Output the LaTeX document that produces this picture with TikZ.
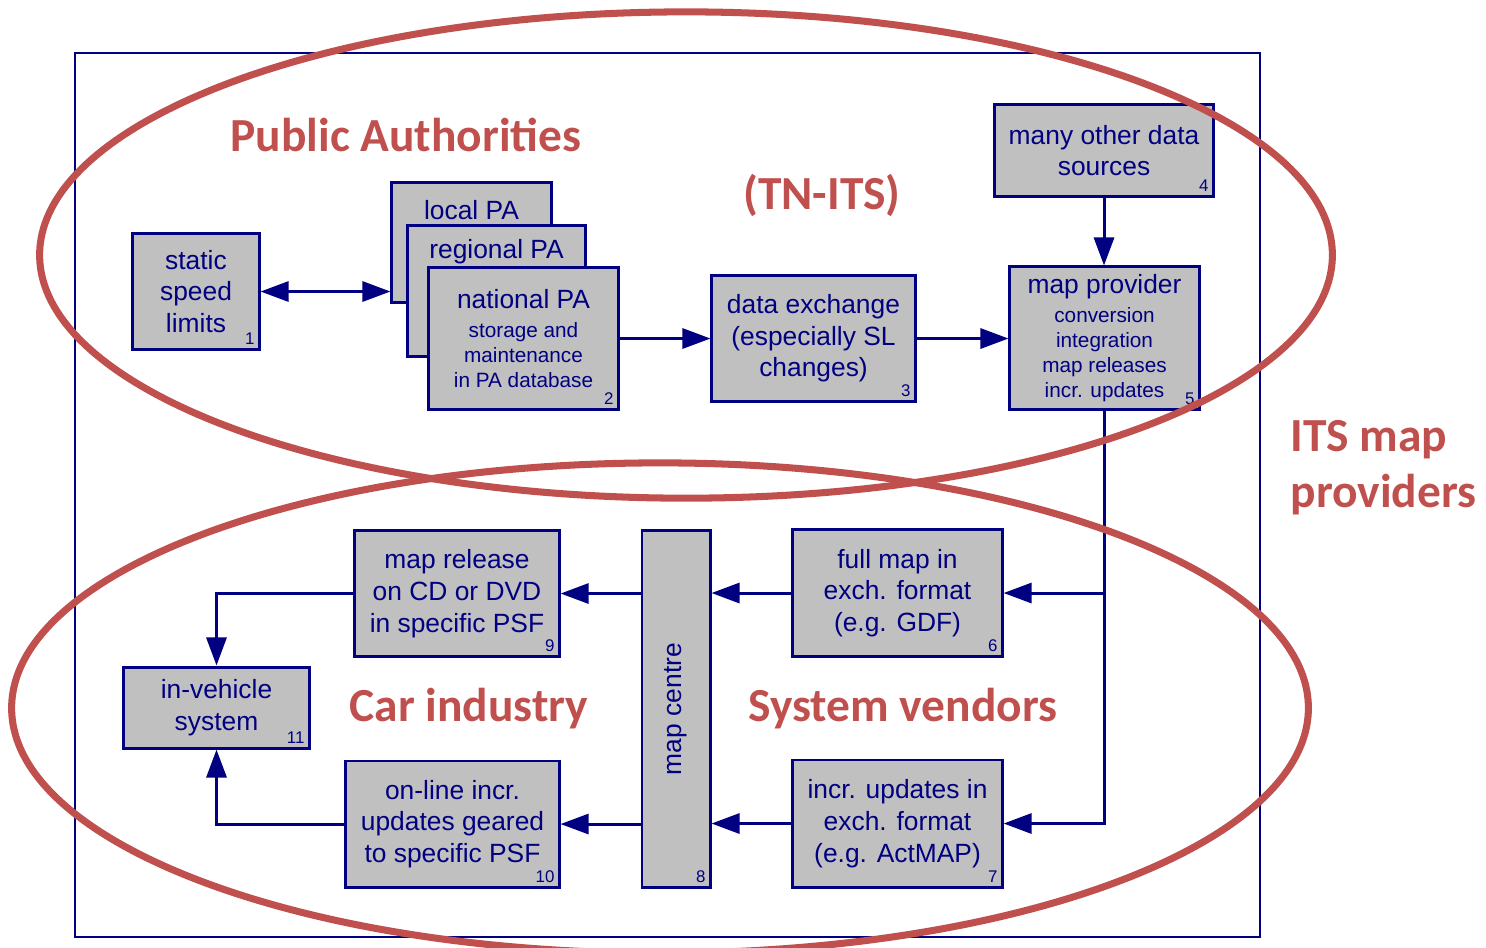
\documentclass[tikz,border=0pt]{standalone}
\usepackage{fontspec}
\setmainfont{Liberation Sans}
\newfontfamily\calibri{Carlito}
\usetikzlibrary{arrows.meta,positioning}

\definecolor{navy}{RGB}{0,0,128}
\definecolor{boxgray}{RGB}{192,192,192}
\definecolor{ovalred}{RGB}{192,80,77}

\newcommand{\bigtxt}{\fontsize{7.5}{9}\selectfont}
\newcommand{\subtxt}{\fontsize{5.9}{7.1}\selectfont}

\tikzset{
  box/.style={draw=navy, fill=boxgray, line width=0.85pt, text=navy, align=center,
              inner sep=0pt, font=\bigtxt},
  subbox/.style={box, font=\subtxt},
  boxtxt/.style={text=navy, inner sep=0pt, font=\bigtxt},
  num/.style={anchor=south east, inner sep=1.3pt, text=navy, font=\fontsize{4.8}{5}\selectfont},
  group/.style={text=ovalred, inner sep=0pt, font=\calibri\bfseries\fontsize{13.5}{16}\selectfont},
  oval/.style={draw=ovalred, line width=2pt},
}

\begin{document}
\begin{tikzpicture}[x=0.01cm,y=-0.01cm,>={Triangle[length=2.8mm,width=2mm]},line width=0.85pt,navy]
\useasboundingbox (0,0) rectangle (1486,947);

\draw[line width=0.75pt] (75,53) rectangle (1260,937);

% public authorities
\node[box, minimum width=1.26cm, minimum height=1.15cm, label={[num]south east:1}] (speed) at (196,291.5) {static\\speed\\limits};
\node[box, minimum width=1.59cm, minimum height=1.19cm] (local) at (471.5,242.5) {};
\node[boxtxt] (locallbl) at (local.north |- 0,210) {local PA};
\node[box, minimum width=1.77cm, minimum height=1.31cm] (regional) at (496.5,291) {};
\node[boxtxt] (regionallbl) at (regional.north |- 0,252) {regional PA};
\node[subbox, minimum width=1.89cm, minimum height=1.41cm, label={[num]south east:2}] (national) at (523.5,338.5)
  {{\bigtxt national PA}\\[1pt]storage and\\maintenance\\in PA database};
\node[box, minimum width=2.03cm, minimum height=1.25cm, label={[num]south east:3}] (exchange) at (813.5,338.5)
  {data exchange\\(especially SL\\changes)};
\node[box, minimum width=2.18cm, minimum height=0.91cm, label={[num]south east:4}] (sources) at (1104,150.5)
  {many other data\\sources};
\node[subbox, minimum width=1.89cm, minimum height=1.42cm, label={[num]south east:5}] (provider) at (1104.5,338)
  {{\bigtxt map provider}\\[1pt]conversion\\integration\\map releases\\incr. updates};

% vendors and car industry
\node[box, minimum width=2.09cm, minimum height=1.26cm, label={[num]south east:6}] (fullmap) at (897.5,593)
  {full map in\\exch. format\\(e.g. GDF)};
\node[box, minimum width=2.09cm, minimum height=1.27cm, label={[num]south east:7}] (incr) at (897.5,823.5)
  {incr. updates in\\exch. format\\(e.g. ActMAP)};
\node[box, minimum width=0.68cm, minimum height=3.56cm, label={[num]south east:8}] (centre) at (676,709) {};
\node[boxtxt, rotate=90] (centrelbl) at (centre) {map centre};
\node[box, minimum width=2.04cm, minimum height=1.25cm, label={[num]south east:9}] (release) at (457,593.5)
  {map release\\on CD or DVD\\in specific PSF};
\node[box, minimum width=2.13cm, minimum height=1.26cm, label={[num]south east:10}] (online) at (452.5,824)
  {on-line incr.\\updates geared\\to specific PSF};
\node[box, minimum width=1.85cm, minimum height=0.81cm, label={[num]south east:11}] (vehicle) at (216.5,707.5)
  {in-vehicle\\system};

% connectors
\draw[<->] (speed.east) -- (speed.east -| local.west);
\draw[->] (national.east) -- (national.east -| exchange.west);
\draw[->] (exchange.east) -- (exchange.east -| provider.west);
\draw[->] (sources.south) -- (sources.south |- provider.north);
\draw[->] (provider.south) |- (incr.east);
\draw[->] (provider.south |- fullmap.east) -- (fullmap.east);
\draw[->] (fullmap.west) -- (fullmap.west -| centre.east);
\draw[->] (incr.west) -- (incr.west -| centre.east);
\draw[->] (release.east -| centre.west) -- (release.east);
\draw[->] (online.east -| centre.west) -- (online.east);
\draw[->] (release.west) -| (vehicle.north);
\draw[->] (online.west) -| (vehicle.south);

% groups
\draw[oval] (686,255) ellipse [x radius=6.46cm, y radius=2.43cm];
\draw[oval] (660,708) ellipse [x radius=6.48cm, y radius=2.45cm];
\node[group] (pa) at (406,135) {Public Authorities};
\node[group] (tnits) at (822,195) {(TN-ITS)};
\node[group] (car) at (469,709) {Car industry};
\node[group] (vendors) at (903,709) {System vendors};
\node[group, align=left, anchor=west] (its) at (1289,468) {ITS map\\providers};
\end{tikzpicture}
\end{document}
